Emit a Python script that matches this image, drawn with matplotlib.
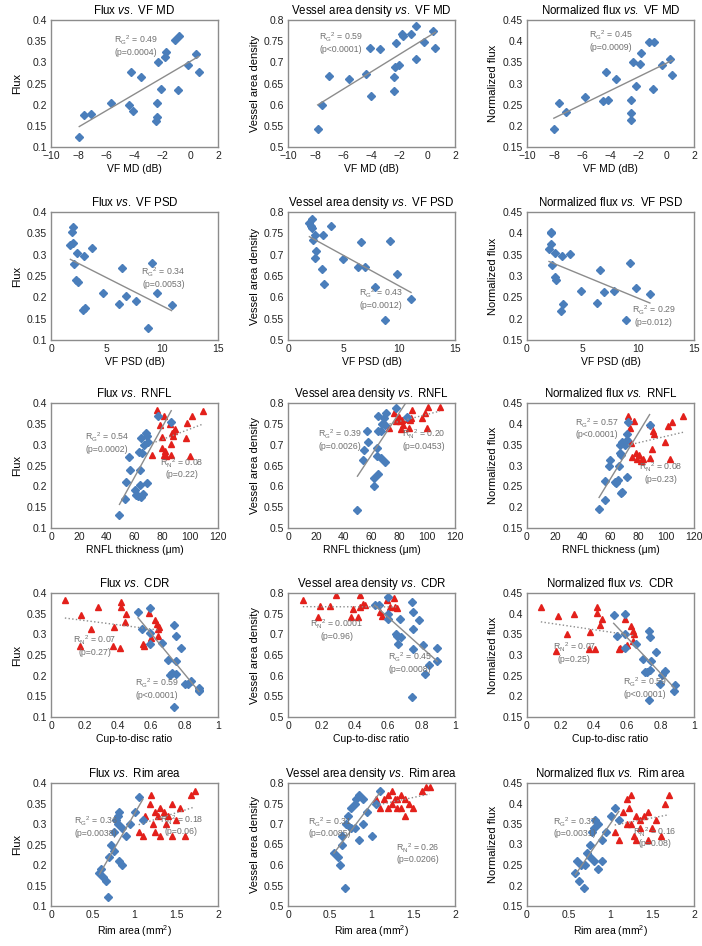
import numpy as np
import matplotlib.pyplot as plt
from matplotlib.ticker import FuncFormatter

plt.rcParams['font.family'] = ['Liberation Sans', 'DejaVu Sans']
plt.rcParams['mathtext.fontset'] = 'custom'
plt.rcParams['mathtext.rm'] = 'Liberation Sans'
plt.rcParams['mathtext.it'] = 'Liberation Sans:italic'
plt.rcParams['mathtext.default'] = 'regular'

# ---- row 1: VF MD (glaucoma only) ----
md_flux_x = [-7.97, -7.61, -7.11, -5.70, -4.42, -4.08, -4.22, -3.51, -2.36, -2.41, -2.46,
             -2.08, -2.29, -1.81, -1.74, -1.12, -0.79, -0.84, -0.19, 0.43, 0.60]
md_flux_y = [0.123, 0.176, 0.178, 0.203, 0.199, 0.185, 0.276, 0.265, 0.204, 0.171, 0.162,
             0.237, 0.300, 0.312, 0.325, 0.352, 0.363, 0.234, 0.294, 0.319, 0.276]
md_vad_x = [-7.87, -7.54, -7.02, -5.63, -4.37, -4.04, -4.14, -3.40, -2.41, -2.39, -2.34,
            -2.01, -2.27, -1.82, -1.75, -1.13, -0.78, -0.83, -0.21, 0.45, 0.59]
md_vad_y = [0.543, 0.600, 0.668, 0.660, 0.672, 0.620, 0.734, 0.732, 0.665, 0.632, 0.689,
            0.693, 0.745, 0.768, 0.763, 0.768, 0.786, 0.709, 0.749, 0.775, 0.735]
md_nf_x = [-8.07, -7.68, -7.21, -5.82, -4.53, -4.18, -4.34, -3.58, -2.51, -2.53, -2.55,
           -2.20, -2.41, -1.91, -1.84, -1.22, -0.91, -0.95, -0.29, 0.29, 0.45]
md_nf_y = [0.193, 0.253, 0.232, 0.267, 0.258, 0.261, 0.327, 0.310, 0.261, 0.230, 0.214,
           0.293, 0.350, 0.347, 0.371, 0.398, 0.399, 0.287, 0.343, 0.359, 0.320]

# ---- row 2: VF PSD (glaucoma only) ----
psd_flux_x = [1.95, 1.92, 1.95, 1.74, 2.04, 2.34, 2.28, 2.40, 2.97, 3.66, 2.88,
              3.06, 4.71, 6.15, 6.39, 6.75, 7.59, 8.70, 9.03, 9.54, 10.83]
psd_flux_y = [0.365, 0.354, 0.328, 0.323, 0.279, 0.304, 0.240, 0.237, 0.297, 0.315, 0.170,
              0.175, 0.210, 0.184, 0.268, 0.204, 0.191, 0.129, 0.281, 0.209, 0.182]
psd_vad_x = [2.16, 1.92, 2.04, 2.16, 2.25, 2.46, 3.12, 3.87, 2.55, 2.40, 3.06,
             3.24, 4.95, 6.30, 6.58, 6.88, 7.78, 8.70, 9.19, 9.79, 11.05]
psd_vad_y = [0.784, 0.774, 0.768, 0.762, 0.735, 0.745, 0.745, 0.767, 0.709, 0.693, 0.666,
             0.632, 0.689, 0.670, 0.730, 0.672, 0.624, 0.547, 0.733, 0.654, 0.597]
psd_nf_x = [2.19, 2.13, 2.19, 1.98, 2.52, 2.25, 2.49, 2.58, 3.18, 3.90, 3.06,
            3.24, 4.89, 6.30, 6.54, 6.90, 7.77, 8.91, 9.21, 9.81, 11.04]
psd_nf_y = [0.403, 0.400, 0.375, 0.363, 0.354, 0.325, 0.297, 0.290, 0.347, 0.352, 0.218,
            0.234, 0.264, 0.236, 0.313, 0.262, 0.265, 0.196, 0.331, 0.271, 0.257]

# ---- row 3: RNFL thickness ----
rnfl_flux_gx = [49.2, 53.2, 53.9, 56.3, 56.8, 60.6, 61.1, 62.3, 63.9, 63.9, 64.4,
                65.9, 64.4, 63.5, 65.4, 66.8, 68.3, 69.0, 69.7, 69.2, 77.1, 86.4]
rnfl_flux_gy = [0.130, 0.170, 0.210, 0.270, 0.240, 0.192, 0.179, 0.176, 0.240, 0.204, 0.174,
                0.182, 0.317, 0.283, 0.280, 0.300, 0.328, 0.322, 0.306, 0.208, 0.368, 0.355]
rnfl_flux_nx = [76.4, 78.5, 79.9, 81.4, 72.6, 79.7, 80.9, 81.6, 82.6, 85.7, 86.6,
                87.4, 89.0, 88.3, 86.4, 86.4, 96.7, 97.9, 101.0, 100.0, 109.3]
rnfl_flux_ny = [0.384, 0.348, 0.318, 0.368, 0.274, 0.292, 0.274, 0.285, 0.272, 0.350, 0.328,
                0.322, 0.338, 0.334, 0.301, 0.274, 0.316, 0.352, 0.368, 0.272, 0.381]
rnfl_vad_gx = [49.9, 53.6, 54.8, 56.5, 57.6, 61.6, 61.6, 64.7, 64.2, 64.2, 66.6,
               69.6, 64.9, 64.9, 67.1, 67.8, 68.7, 70.1, 69.6, 77.6, 85.4]
rnfl_vad_gy = [0.543, 0.664, 0.688, 0.732, 0.707, 0.619, 0.600, 0.630, 0.691, 0.672, 0.669,
               0.659, 0.768, 0.733, 0.733, 0.749, 0.763, 0.775, 0.747, 0.787, 0.767]
rnfl_vad_nx = [72.9, 76.5, 77.6, 78.8, 80.0, 80.7, 81.9, 80.9, 82.8, 87.1, 87.5,
               88.5, 89.4, 96.5, 98.4, 100.5, 99.8, 109.2, 85.9]
rnfl_vad_ny = [0.740, 0.777, 0.757, 0.761, 0.767, 0.756, 0.759, 0.737, 0.748, 0.741, 0.759,
               0.765, 0.783, 0.765, 0.777, 0.791, 0.740, 0.791, 0.761]
rnfl_nf_gx = [51.8, 55.7, 58.6, 59.3, 56.4, 62.9, 63.8, 65.3, 66.2, 66.7, 67.7,
              67.7, 68.6, 71.8, 66.7, 68.6, 70.1, 71.5, 72.2, 72.7, 88.1]
rnfl_nf_gy = [0.196, 0.217, 0.298, 0.314, 0.263, 0.261, 0.257, 0.264, 0.298, 0.330, 0.325,
              0.235, 0.236, 0.273, 0.349, 0.356, 0.349, 0.375, 0.361, 0.404, 0.398]
rnfl_nf_nx = [72.5, 75.1, 73.2, 74.9, 73.7, 77.0, 78.2, 79.2, 80.6, 81.6, 83.5,
              88.3, 88.1, 90.5, 89.5, 91.2, 99.4, 101.3, 103.9, 102.7, 112.3]
rnfl_nf_ny = [0.420, 0.321, 0.360, 0.354, 0.391, 0.406, 0.331, 0.315, 0.324, 0.310, 0.315,
              0.319, 0.400, 0.383, 0.339, 0.376, 0.357, 0.394, 0.404, 0.315, 0.420]

# ---- row 4: cup-to-disc ratio ----
cdr_flux_gx = [0.521, 0.542, 0.592, 0.592, 0.592, 0.665, 0.700, 0.710, 0.724, 0.748, 0.738,
               0.750, 0.750, 0.779, 0.738, 0.803, 0.822, 0.836, 0.884, 0.886, 0.886]
cdr_flux_gy = [0.354, 0.314, 0.364, 0.303, 0.277, 0.279, 0.239, 0.201, 0.206, 0.205, 0.322,
               0.296, 0.235, 0.268, 0.124, 0.181, 0.179, 0.187, 0.171, 0.165, 0.163]
cdr_flux_nx = [0.083, 0.181, 0.174, 0.241, 0.280, 0.379, 0.373, 0.412, 0.422, 0.422, 0.450,
               0.442, 0.550, 0.556, 0.584, 0.600, 0.625, 0.635, 0.643, 0.647, 0.639]
cdr_flux_ny = [0.382, 0.346, 0.271, 0.314, 0.365, 0.318, 0.271, 0.268, 0.379, 0.365, 0.348,
               0.329, 0.277, 0.271, 0.352, 0.292, 0.334, 0.326, 0.314, 0.318, 0.297]
cdr_vad_gx = [0.518, 0.547, 0.597, 0.597, 0.597, 0.668, 0.652, 0.656, 0.676, 0.648, 0.743,
              0.751, 0.751, 0.747, 0.783, 0.806, 0.743, 0.820, 0.846, 0.893, 0.893]
cdr_vad_gy = [0.771, 0.771, 0.790, 0.750, 0.737, 0.737, 0.697, 0.676, 0.693, 0.700, 0.779,
              0.753, 0.713, 0.665, 0.735, 0.673, 0.548, 0.604, 0.625, 0.668, 0.635]
cdr_vad_nx = [0.089, 0.180, 0.190, 0.249, 0.290, 0.379, 0.389, 0.417, 0.431, 0.429, 0.451,
              0.460, 0.553, 0.563, 0.593, 0.632, 0.640, 0.652, 0.609]
cdr_vad_ny = [0.782, 0.741, 0.769, 0.769, 0.795, 0.741, 0.762, 0.741, 0.794, 0.765, 0.773,
              0.771, 0.753, 0.744, 0.782, 0.787, 0.766, 0.763, 0.767]
cdr_nf_gx = [0.519, 0.538, 0.585, 0.585, 0.585, 0.652, 0.692, 0.705, 0.717, 0.735, 0.729,
             0.737, 0.741, 0.774, 0.731, 0.794, 0.810, 0.827, 0.884, 0.882]
cdr_nf_gy = [0.396, 0.346, 0.400, 0.351, 0.318, 0.326, 0.291, 0.258, 0.260, 0.264, 0.358,
             0.343, 0.286, 0.308, 0.192, 0.230, 0.252, 0.261, 0.228, 0.213]
cdr_nf_nx = [0.083, 0.171, 0.185, 0.240, 0.283, 0.371, 0.377, 0.407, 0.420, 0.420, 0.436,
             0.450, 0.548, 0.554, 0.585, 0.597, 0.621, 0.637, 0.641, 0.637]
cdr_nf_ny = [0.416, 0.310, 0.394, 0.352, 0.399, 0.314, 0.356, 0.314, 0.415, 0.402, 0.372,
             0.386, 0.314, 0.316, 0.386, 0.324, 0.371, 0.359, 0.352, 0.334]

# ---- row 5: rim area ----
rim_flux_gx = [0.58, 0.60, 0.62, 0.66, 0.68, 0.70, 0.72, 0.75, 0.80, 0.80, 0.82,
               0.78, 0.82, 0.85, 0.85, 0.90, 1.00, 1.05, 1.10, 0.75, 0.95]
rim_flux_gy = [0.180, 0.190, 0.170, 0.162, 0.123, 0.220, 0.250, 0.280, 0.300, 0.320, 0.330,
               0.310, 0.210, 0.200, 0.290, 0.270, 0.330, 0.365, 0.310, 0.235, 0.300]
rim_flux_nx = [1.05, 1.10, 1.12, 1.18, 1.20, 1.22, 1.25, 1.25, 1.28, 1.30, 1.30,
               1.35, 1.38, 1.40, 1.45, 1.45, 1.50, 1.55, 1.60, 1.68, 1.72]
rim_flux_ny = [0.280, 0.270, 0.320, 0.350, 0.370, 0.300, 0.330, 0.280, 0.320, 0.340, 0.270,
               0.330, 0.300, 0.320, 0.350, 0.270, 0.310, 0.340, 0.270, 0.370, 0.380]
rim_vad_gx = [0.55, 0.60, 0.62, 0.68, 0.65, 0.70, 0.72, 0.75, 0.80, 0.82, 0.85,
              0.90, 0.95, 0.80, 0.85, 1.00, 1.05, 1.10, 0.90, 0.75, 0.65]
rim_vad_gy = [0.630, 0.620, 0.600, 0.545, 0.670, 0.700, 0.720, 0.740, 0.750, 0.760, 0.770,
              0.760, 0.730, 0.690, 0.660, 0.670, 0.750, 0.780, 0.700, 0.690, 0.650]
rim_vad_nx = [1.05, 1.10, 1.15, 1.20, 1.25, 1.25, 1.30, 1.30, 1.35, 1.40, 1.40,
              1.45, 1.50, 1.60, 1.65, 1.20, 1.28, 1.70, 1.35]
rim_vad_ny = [0.760, 0.740, 0.760, 0.770, 0.780, 0.750, 0.760, 0.740, 0.770, 0.760, 0.720,
              0.750, 0.740, 0.780, 0.790, 0.740, 0.760, 0.790, 0.740]
rim_nf_gx = [0.58, 0.60, 0.62, 0.68, 0.65, 0.72, 0.75, 0.78, 0.80, 0.82, 0.85,
             0.80, 0.85, 0.90, 0.90, 0.95, 1.00, 1.05, 1.10, 0.75, 0.70]
rim_nf_gy = [0.230, 0.260, 0.210, 0.195, 0.250, 0.280, 0.300, 0.330, 0.340, 0.360, 0.350,
             0.260, 0.240, 0.260, 0.310, 0.330, 0.370, 0.390, 0.360, 0.270, 0.250]
rim_nf_nx = [1.05, 1.10, 1.15, 1.20, 1.22, 1.25, 1.25, 1.30, 1.30, 1.35, 1.35,
             1.40, 1.45, 1.45, 1.50, 1.55, 1.60, 1.65, 1.70, 1.20, 1.28]
rim_nf_ny = [0.330, 0.310, 0.380, 0.410, 0.390, 0.420, 0.350, 0.370, 0.310, 0.360, 0.340,
             0.370, 0.380, 0.310, 0.340, 0.360, 0.320, 0.400, 0.420, 0.350, 0.320]

# axis setups
ylabels = ['Flux', 'Vessel area density', 'Normalized flux']
ynames = ['Flux', 'Vessel area density', 'Normalized flux']
ylims = [(0.1, 0.4), (0.5, 0.8), (0.15, 0.45)]
xnames = ['VF MD', 'VF PSD', 'RNFL', 'CDR', 'Rim area']
xlabels = ['VF MD (dB)', 'VF PSD (dB)', 'RNFL thickness (\u03bcm)', 'Cup-to-disc ratio',
           'Rim area (mm$^2$)']
xlims = [(-10, 2), (0, 15), (0, 120), (0, 1), (0, 2)]
xsteps = [2, 5, 20, 0.2, 0.5]

# per panel data: (glaucoma x, glaucoma y, normal x, normal y)
panels = [
    [(md_flux_x, md_flux_y, None, None), (md_vad_x, md_vad_y, None, None), (md_nf_x, md_nf_y, None, None)],
    [(psd_flux_x, psd_flux_y, None, None), (psd_vad_x, psd_vad_y, None, None), (psd_nf_x, psd_nf_y, None, None)],
    [(rnfl_flux_gx, rnfl_flux_gy, rnfl_flux_nx, rnfl_flux_ny),
     (rnfl_vad_gx, rnfl_vad_gy, rnfl_vad_nx, rnfl_vad_ny),
     (rnfl_nf_gx, rnfl_nf_gy, rnfl_nf_nx, rnfl_nf_ny)],
    [(cdr_flux_gx, cdr_flux_gy, cdr_flux_nx, cdr_flux_ny),
     (cdr_vad_gx, cdr_vad_gy, cdr_vad_nx, cdr_vad_ny),
     (cdr_nf_gx, cdr_nf_gy, cdr_nf_nx, cdr_nf_ny)],
    [(rim_flux_gx, rim_flux_gy, rim_flux_nx, rim_flux_ny),
     (rim_vad_gx, rim_vad_gy, rim_vad_nx, rim_vad_ny),
     (rim_nf_gx, rim_nf_gy, rim_nf_nx, rim_nf_ny)],
]

# regression notes: (group, R2, p text, x, y)
notes = [
    [[('G', '0.49', '(p=0.0004)', -3.9, 0.352)],
     [('G', '0.59', '(p<0.0001)', -6.2, 0.759)],
     [('G', '0.45', '(p=0.0009)', -4.0, 0.413)]],
    [[('G', '0.34', '(p=0.0053)', 10.1, 0.259)],
     [('G', '0.43', '(p=0.0012)', 8.3, 0.610)],
     [('G', '0.29', '(p=0.012)', 11.4, 0.220)]],
    [[('G', '0.54', '(p=0.0002)', 40.1, 0.318), ('N', '0.08', '(p=0.22)', 93.8, 0.256)],
     [('G', '0.39', '(p=0.0026)', 37.6, 0.724), ('N', '0.20', '(p=0.0453)', 97.6, 0.724)],
     [('G', '0.57', '(p<0.0001)', 49.9, 0.402), ('N', '0.08', '(p=0.23)', 96.0, 0.295)]],
    [[('N', '0.07', '(p=0.27)', 0.264, 0.285), ('G', '0.59', '(p<0.0001)', 0.635, 0.181)],
     [('N', '0.0001', '(p=0.96)', 0.292, 0.723), ('G', '0.45', '(p=0.0008)', 0.731, 0.644)],
     [('N', '0.07', '(p=0.25)', 0.283, 0.318), ('G', '0.59', '(p<0.0001)', 0.705, 0.233)]],
    [[('G', '0.36', '(p=0.0038)', 0.54, 0.306), ('N', '0.18', '(p=0.06)', 1.56, 0.310)],
     [('G', '0.31', '(p=0.0085)', 0.50, 0.705), ('N', '0.26', '(p=0.0206)', 1.56, 0.641)],
     [('G', '0.37', '(p=0.0031)', 0.57, 0.355), ('N', '0.16', '(p=0.08)', 1.53, 0.330)]],
]

blue = '#4a7ebb'
red = '#e3201b'
grey = '#8c8c8c'
txt_grey = '#707070'

fig = plt.figure(figsize=(7.02, 9.46), dpi=100)
W, H = 702, 946
col_left = [51, 288, 527]
col_w = 167
row_top = [20, 212, 403, 593, 783]
row_h = [127, 128, 125, 124, 123]


def fit_line(ax, x, y, ls):
    x = np.asarray(x)
    y = np.asarray(y)
    k, b = np.polyfit(x, y, 1)
    xs = np.array([x.min(), x.max()])
    ax.plot(xs, k * xs + b, color=grey, lw=1.0, ls=ls, zorder=3)


for r in range(5):
    for c in range(3):
        ax = fig.add_axes([col_left[c] / W, 1 - (row_top[r] + row_h[r]) / H,
                           col_w / W, row_h[r] / H])
        gx, gy, nx, ny = panels[r][c]
        if nx is not None:
            ax.plot(nx, ny, ls='none', marker='^', ms=5.0, color=red, mec=red, zorder=2)
        ax.plot(gx, gy, ls='none', marker='D', ms=3.8, color=blue, mec=blue, zorder=2)
        if nx is not None:
            fit_line(ax, nx, ny, ':')
        fit_line(ax, gx, gy, '-')

        for grp, stat, ptxt, tx, ty in notes[r][c]:
            ax.text(tx, ty, 'R$_{%s}$$^2$ = %s' % (grp, stat), ha='center', va='center',
                    fontsize=6.3, color=txt_grey, zorder=4)
            dy = (ylims[c][1] - ylims[c][0]) * 0.095
            ax.text(tx, ty - dy, ptxt, ha='center', va='center',
                    fontsize=6.3, color=txt_grey, zorder=4)

        x0, x1 = xlims[r]
        ax.set_xlim(x0, x1)
        ax.set_xticks(np.arange(x0, x1 + xsteps[r] / 2, xsteps[r]))
        ax.set_ylim(*ylims[c])
        ax.set_yticks(np.arange(ylims[c][0], ylims[c][1] + 0.001, 0.05))
        fmt = FuncFormatter(lambda v, p: ('%g' % round(v, 3)).replace('-', '\u2212'))
        ax.xaxis.set_major_formatter(fmt)
        ax.yaxis.set_major_formatter(FuncFormatter(lambda v, p: '%g' % round(v, 3)))
        ax.tick_params(length=0, labelsize=7.5, pad=3, colors='#222222')
        for s in ax.spines.values():
            s.set_color('#8c8c8c')
            s.set_linewidth(1.0)
        ax.set_title('%s $\\mathit{vs.}$ %s' % (ynames[c], xnames[r]), fontsize=8.3, pad=4)
        ax.set_xlabel(xlabels[r], fontsize=7.5, labelpad=2)
        ax.set_ylabel(ylabels[c], fontsize=8, labelpad=3)

fig.savefig('out.png', dpi=100)
